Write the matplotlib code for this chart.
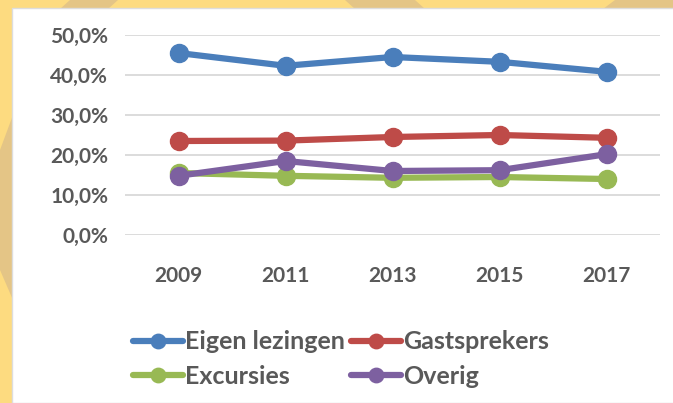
import matplotlib
matplotlib.use("Agg")
import matplotlib.pyplot as plt
from matplotlib.patches import Rectangle, Polygon

plt.rcParams["font.family"] = ["Lato", "DejaVu Sans"]

# Datos
jaren = ["2009", "2011", "2013", "2015", "2017"]
eigen = [45.5, 42.3, 44.5, 43.3, 40.8]
gast = [23.5, 23.6, 24.5, 25.0, 24.3]
excursies = [15.5, 14.8, 14.3, 14.5, 14.0]
overig = [14.8, 18.5, 16.0, 16.2, 20.2]
yticks = [0, 10, 20, 30, 40, 50]

grijs = "#595959"
W, H = 673, 403

fig = plt.figure(figsize=(6.73, 4.03), dpi=100, facecolor="#FDDB80")

# achtergrond: donkere banen in de gele rand
def baan(pts):
    fig.patches.append(Polygon([(px / W, 1 - py / H) for px, py in pts], closed=True,
                               transform=fig.transFigure, facecolor="#E4C586",
                               edgecolor="none", zorder=-2))
baan([(70, 0), (118, 0), (108, 9), (60, 9)])
baan([(345, 0), (415, 0), (425, 9), (355, 9)])
baan([(615, 0), (673, 0), (673, 9), (603, 9)])
baan([(0, 150), (13, 115), (13, 300), (0, 270)])

# wit paneel
fig.patches.append(Rectangle((12/W, 0), 1, 1 - 8/H, transform=fig.transFigure,
                             facecolor="white", edgecolor="#DDDDDD", lw=1.0, zorder=-1))

ax = fig.add_axes([125/W, 1 - 235/H, 535/W, 200/H])
ax.set_facecolor("none")

x = range(len(jaren))
series = [("Eigen lezingen", eigen, "#4A7EBB"),
          ("Gastsprekers", gast, "#BE4B48"),
          ("Excursies", excursies, "#98B954"),
          ("Overig", overig, "#7D60A0")]
lijnen = {}
for naam, vals, kleur in series:
    lijnen[naam], = ax.plot(x, vals, color=kleur, lw=4.5, marker="o", markersize=13,
                            solid_capstyle="round", label=naam)

ax.set_xlim(-0.5, 4.5)
ax.set_ylim(0, 50)
ax.set_yticks(yticks)
ax.set_yticklabels([f"{v:.1f}%".replace(".", ",") for v in yticks])
ax.set_xticks(list(x))
ax.set_xticklabels(jaren)
ax.grid(axis="y", color="#D9D9D9", lw=1.3)
ax.set_axisbelow(True)
for s in ax.spines.values():
    s.set_visible(False)
ax.tick_params(length=0, labelsize=15, labelcolor=grijs)
ax.tick_params(axis="y", pad=12)
ax.tick_params(axis="x", pad=22)
for lab in ax.get_xticklabels() + ax.get_yticklabels():
    lab.set_fontweight("bold")

# legenda: rij voor rij zoals in Excel
volgorde = ["Eigen lezingen", "Excursies", "Gastsprekers", "Overig"]
leg = fig.legend([lijnen[n] for n in volgorde], volgorde,
                 loc="center left", bbox_to_anchor=(120/W, 1 - 359/H), ncol=2,
                 frameon=False, borderpad=0, markerscale=0.8,
                 handlelength=2.0, handletextpad=0.1, columnspacing=0.25,
                 labelspacing=0.45, prop={"size": 18, "weight": "bold"})
for t in leg.get_texts():
    t.set_color(grijs)

plt.savefig("out.png", dpi=100, facecolor=fig.get_facecolor())
